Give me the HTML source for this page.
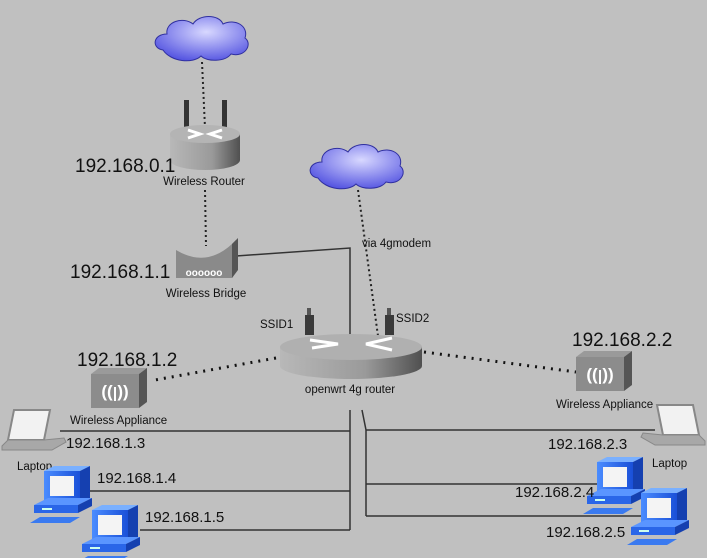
<!DOCTYPE html>
<html><head><meta charset="utf-8"><style>
html,body{margin:0;padding:0;background:#c0c0c0}
svg{display:block}
text{font-family:"Liberation Sans",Arial,sans-serif;fill:#111}
</style></head><body>
<svg width="707" height="558" viewBox="0 0 707 558" xmlns="http://www.w3.org/2000/svg">
<defs>
<radialGradient id="cl" cx="0.55" cy="0.35" r="0.7"><stop offset="0" stop-color="#d8d8ff"/><stop offset="1" stop-color="#5050e0"/></radialGradient>
<linearGradient id="cyl" x1="0" x2="1"><stop offset="0" stop-color="#b8b8b8"/><stop offset="0.6" stop-color="#9a9a9a"/><stop offset="1" stop-color="#505050"/></linearGradient>
<linearGradient id="pc" x1="0" x2="1"><stop offset="0" stop-color="#4a8cff"/><stop offset="1" stop-color="#1a50d8"/></linearGradient>
<g id="cloud">
<path d="M10,38 C-2,36 0,22 14,22 C12,10 30,4 40,12 C46,2 66,2 70,12 C82,6 96,14 92,26 C100,32 92,46 78,42 C72,50 54,50 48,44 C40,52 18,50 10,38 Z" fill="url(#cl)" stroke="#3030a0" stroke-width="1"/>
</g>
<g id="pcic">
<polygon points="14,0 50,0 60,-5 24,-5" fill="#7ab0ff"/>
<rect x="14" y="0" width="36" height="32" fill="url(#pc)"/>
<polygon points="50,0 60,-5 60,27 50,32" fill="#1540b0"/>
<rect x="20" y="5" width="24" height="20" fill="#f4f4f4"/>
<polygon points="4,34 48,34 62,27 18,27" fill="#5a95ff"/>
<rect x="4" y="34" width="44" height="8" fill="#2a66e8"/>
<polygon points="48,34 62,27 62,35 48,42" fill="#1540b0"/>
<rect x="12" y="37" width="10" height="2" fill="#cfe"/>
<polygon points="0,52 40,52 50,46 10,46" fill="#3a7af0"/>
</g>
<g id="lap">
<polygon points="12,0 48,0 42,30 6,30" fill="#f2f2f2" stroke="#888" stroke-width="2"/>
<polygon points="6,30 42,30 62,28 64,32 50,40 0,40 0,36" fill="#a8a8a8" stroke="#888" stroke-width="1"/>
</g>
<g id="wa">
<polygon points="0,6 48,6 56,0 8,0" fill="#9a9a9a"/>
<rect x="0" y="6" width="48" height="34" fill="#8c8c8c"/>
<polygon points="48,6 56,0 56,34 48,40" fill="#555"/>
<text x="24" y="29" font-size="17" font-weight="bold" text-anchor="middle" style="fill:#fff">(( ))</text>
<line x1="24" y1="19" x2="24" y2="33" stroke="#fff" stroke-width="2"/>
</g>
</defs>

<use href="#cloud" x="153" y="12"/>
<use href="#cloud" x="308" y="140"/>

<g stroke="#222" stroke-width="2" stroke-dasharray="2,3" fill="none">
<line x1="202" y1="62" x2="205" y2="128"/>
<line x1="205" y1="190" x2="206" y2="246"/>
<line x1="358" y1="190" x2="378" y2="336"/>
</g>
<g stroke="#111" stroke-width="3" stroke-dasharray="2,6" fill="none">
<line x1="276" y1="358" x2="155" y2="380"/>
<line x1="424" y1="352" x2="576" y2="372"/>
</g>

<g stroke="#333" stroke-width="1.5" fill="none">
<polyline points="236,256 350,248 350,335"/>
<line x1="350" y1="410" x2="350" y2="530"/>
<line x1="60" y1="431" x2="350" y2="431"/>
<line x1="90" y1="491" x2="350" y2="491"/>
<line x1="140" y1="530" x2="350" y2="530"/>
<polyline points="362,410 366,430 366,516"/>
<line x1="366" y1="430" x2="655" y2="430"/>
<line x1="366" y1="484" x2="602" y2="484"/>
<line x1="366" y1="516" x2="648" y2="516"/>
</g>

<!-- router 1 -->
<rect x="184" y="100" width="5" height="30" fill="#333"/>
<rect x="222" y="100" width="5" height="30" fill="#333"/>
<path d="M170,134 L170,160 A35,10 0 0 0 240,160 L240,134 Z" fill="url(#cyl)"/>
<ellipse cx="205" cy="134" rx="35" ry="9" fill="#b4b4b4"/>
<path d="M188,130 L200,134 L188,138 M222,130 L210,134 L222,138" stroke="#fff" stroke-width="3" fill="none"/>
<text x="75" y="172" font-size="19">192.168.0.1</text>
<text x="204" y="185" font-size="11.5" text-anchor="middle">Wireless Router</text>

<!-- bridge -->
<path d="M176,250 Q206,268 232,244 L236,240 L236,272 L232,278 L176,278 Z" fill="#8a8a8a"/>
<polygon points="232,244 238,238 238,270 232,278" fill="#555"/>
<text x="204" y="276" font-size="10" text-anchor="middle" style="fill:#fff" font-weight="bold">oooooo</text>
<text x="70" y="278" font-size="19">192.168.1.1</text>
<text x="206" y="297" font-size="11.5" text-anchor="middle">Wireless Bridge</text>
<text x="362" y="247" font-size="11.5">via 4gmodem</text>

<!-- router 2 -->
<rect x="307" y="308" width="4" height="8" fill="#555"/>
<rect x="305" y="315" width="9" height="20" fill="#3a3a3a"/>
<rect x="387" y="308" width="4" height="8" fill="#555"/>
<rect x="385" y="315" width="9" height="20" fill="#3a3a3a"/>
<path d="M280,347 L280,366 A71,13 0 0 0 422,366 L422,347 Z" fill="url(#cyl)"/>
<ellipse cx="351" cy="347" rx="71" ry="13" fill="#b0b0b0"/>
<path d="M310,340 L338,344 L312,348 M392,338 L366,344 L392,350" stroke="#fff" stroke-width="3" fill="none"/>
<text x="260" y="328" font-size="11.5">SSID1</text>
<text x="396" y="322" font-size="11.5">SSID2</text>
<text x="350" y="393" font-size="11.5" text-anchor="middle">openwrt 4g router</text>

<use href="#wa" x="91" y="368"/>
<use href="#wa" x="576" y="351"/>
<text x="77" y="366" font-size="19">192.168.1.2</text>
<text x="70" y="424" font-size="11.5">Wireless Appliance</text>
<text x="572" y="346" font-size="19">192.168.2.2</text>
<text x="556" y="408" font-size="11.5">Wireless Appliance</text>

<use href="#lap" x="2" y="410"/>
<g transform="translate(705,405) scale(-1,1)"><use href="#lap"/></g>
<text x="17" y="470" font-size="11.5">Laptop</text>
<text x="652" y="467" font-size="11.5">Laptop</text>

<use href="#pcic" x="30" y="471"/>
<use href="#pcic" x="78" y="510"/>
<use href="#pcic" x="583" y="462"/>
<use href="#pcic" x="627" y="493"/>

<g font-size="15">
<text x="66" y="448">192.168.1.3</text>
<text x="97" y="483">192.168.1.4</text>
<text x="145" y="522">192.168.1.5</text>
<text x="548" y="449">192.168.2.3</text>
<text x="515" y="497">192.168.2.4</text>
<text x="546" y="537">192.168.2.5</text>
</g>
</svg>
</body></html>
